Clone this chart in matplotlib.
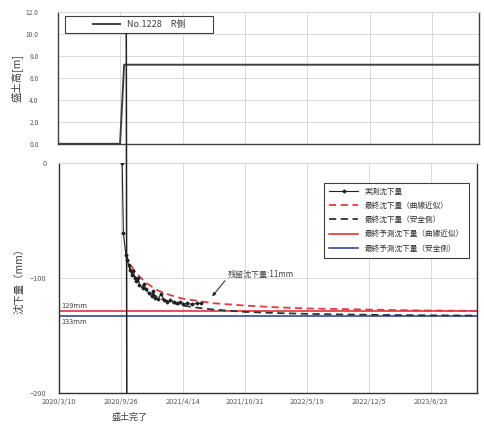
import datetime as dt
import matplotlib
matplotlib.use('Agg')
import matplotlib.pyplot as plt
import matplotlib.dates as mdates
from matplotlib.patches import ConnectionPatch, Rectangle

plt.rcParams['font.family'] = ['Noto Sans CJK JP', 'DejaVu Sans']

# ---- data ----
start = dt.date(2020, 3, 10)
x_end_day = 1350
tick_labels = ['2020/3/10', '2020/9/26', '2021/4/14', '2021/10/31',
               '2022/5/19', '2022/12/5', '2023/6/23']

# 盛土高
fill_day = [0, 199, 212, x_end_day]
fill_h = [0.0, 0.0, 7.2, 7.2]

# 実測沈下量
meas_day = [204, 208, 216, 220, 225, 230, 235, 240, 245, 250, 255, 260, 270,
            275, 280, 290, 300, 305, 310, 320, 330, 340, 350, 360, 370, 380,
            390, 400, 415, 430, 445, 460]
meas_val = [0, -61, -80, -84, -89, -93, -97, -94, -100, -103, -100, -106, -109,
            -105, -110, -113, -116, -111, -117, -118, -114, -119, -121, -119,
            -121, -122, -121, -123, -122, -123, -122, -122]

# 最終沈下量（曲線近似）
red_day = [216, 230, 250, 280, 320, 360, 400, 450, 500, 600, 700, 800, 900,
           1000, 1100, 1200, 1350]
red_val = [-80, -88, -96, -104, -111, -115, -118, -120, -122, -124, -125.5,
           -126.5, -127, -127.5, -128, -128.3, -128.6]

# 最終沈下量（安全側）
blk_day = [216, 230, 250, 280, 320, 360, 400, 450, 500, 600, 700, 800, 900,
           1000, 1100, 1200, 1350]
blk_val = [-80, -92, -101, -110, -117, -121, -124, -126, -127.5, -129.5,
           -130.5, -131.2, -131.7, -132, -132.3, -132.5, -132.7]

final_red = -129
final_blue = -133
fill_done_day = 219


def d(n):
    return mdates.date2num(start + dt.timedelta(days=n))


def parse(s):
    y, m, dd = map(int, s.split('/'))
    return mdates.date2num(dt.date(y, m, dd))


tick_pos = [parse(s) for s in tick_labels]
xlim = (d(0), d(x_end_day))

fig = plt.figure(figsize=(4.85, 4.28), dpi=100, facecolor='white')
ax1 = fig.add_axes([0.1196, 0.664, 0.868, 0.308])
ax2 = fig.add_axes([0.1216, 0.082, 0.862, 0.537])

grid_c = '#d9d9d9'
lab_c = '#595959'

# ── top: 盛土高 ─────────────────────────
ax1.plot([d(n) for n in fill_day], fill_h, color='#404040', lw=1.4,
         label='No.1228\u3000R側')
ax1.set_xlim(xlim)
ax1.set_ylim(0, 12)
ax1.set_yticks([0, 2, 4, 6, 8, 10, 12])
ax1.set_yticklabels([f'{v:.1f}' for v in range(0, 13, 2)])
ax1.set_xticks(tick_pos)
ax1.set_xticklabels([])
ax1.grid(True, color=grid_c, lw=0.7)
ax1.tick_params(length=0, labelsize=4.8, labelcolor=lab_c, pad=14)
ax1.set_ylabel('盛土高[m]', fontsize=7.5, color='#404040', labelpad=2)
for s in ['left', 'bottom', 'right']:
    ax1.spines[s].set_color('#404040')
    ax1.spines[s].set_linewidth(1.0)
ax1.spines['top'].set_color(grid_c)
ax1.set_axisbelow(True)

# legend box (wider than its entry, entry centred like the Excel original)
box = Rectangle((0.017, 0.841), 0.351, 0.129, transform=ax1.transAxes,
                facecolor='white', edgecolor='#404040', lw=0.8, zorder=5)
ax1.add_patch(box)
leg1 = ax1.legend(loc='center', bbox_to_anchor=(0.017 + 0.351 / 2, 0.905),
                  fontsize=6.5, frameon=False, handlelength=3.0,
                  borderpad=0, borderaxespad=0, labelcolor='#404040')
leg1.set_zorder(6)

# ── bottom: 沈下量 ───────────────────────
ax2.plot([d(n) for n in red_day], red_val, color='#e8383d', lw=1.3,
         ls=(0, (4, 2.5)), label='最終沈下量（曲線近似）', zorder=3)
ax2.plot([d(n) for n in blk_day], blk_val, color='#303040', lw=1.3,
         ls=(0, (4, 2.5)), label='最終沈下量（安全側）', zorder=3)
ax2.plot([d(n) for n in meas_day], meas_val, color='#202020', lw=0.8,
         marker='D', ms=1.5, label='実測沈下量', zorder=4)
ax2.axhline(final_red, color='#e02020', lw=1.1, label='最終予測沈下量（曲線近似）')
ax2.axhline(final_blue, color='#1f3d8a', lw=1.1, label='最終予測沈下量（安全側）')

ax2.set_xlim(xlim)
ax2.set_ylim(-200, 0)
ax2.set_yticks([0, -100, -200])
ax2.set_xticks(tick_pos)
ax2.set_xticklabels(tick_labels)
ax2.grid(True, color=grid_c, lw=0.7)
ax2.tick_params(length=0, labelsize=5.3, labelcolor=lab_c)
ax2.tick_params(axis='y', pad=9)
ax2.tick_params(axis='x', pad=4)
ax2.set_ylabel('沈下量（mm）', fontsize=7.5, color='#404040', labelpad=4)
for s in ['left', 'bottom', 'right']:
    ax2.spines[s].set_color('#303030')
    ax2.spines[s].set_linewidth(1.0)
ax2.spines['top'].set_color(grid_c)
ax2.set_axisbelow(True)

ax2.text(0.005, final_red + 1.5, f'{-final_red}mm', transform=ax2.get_yaxis_transform(),
         fontsize=5.3, color='#404040', va='bottom', ha='left')
ax2.text(0.005, final_blue - 1.5, f'{-final_blue}mm', transform=ax2.get_yaxis_transform(),
         fontsize=5.3, color='#404040', va='top', ha='left')

ax2.annotate('残留沈下量:11mm', xy=(d(495), -116), xytext=(d(545), -97),
             fontsize=5.8, color='#404040', ha='left', va='center',
             arrowprops=dict(arrowstyle='-|>', color='#202020', lw=0.7,
                             mutation_scale=5, shrinkA=0, shrinkB=0,
                             relpos=(0, 0.2)))

h, l = ax2.get_legend_handles_labels()
order = [2, 0, 1, 3, 4]
leg2 = ax2.legend([h[i] for i in order], [l[i] for i in order],
                  loc='upper right', bbox_to_anchor=(0.98, 0.915), fontsize=5.5,
                  frameon=True, fancybox=False, edgecolor='#404040',
                  handlelength=3.8, borderpad=0.7, labelspacing=0.8,
                  borderaxespad=0, labelcolor='#303030', framealpha=1)
leg2.get_frame().set_linewidth(0.8)

# 盛土完了 line across both panels
con = ConnectionPatch(xyA=(d(fill_done_day), -200), coordsA=ax2.transData,
                      xyB=(d(fill_done_day), 10), coordsB=ax1.transData,
                      color='#202020', lw=1.1, zorder=6)
fig.add_artist(con)
ax2.text(d(fill_done_day) + 8, -0.085, '盛土完了', transform=ax2.get_xaxis_transform(),
         fontsize=6.5, color='#404040', ha='center', va='top')

fig.savefig('out.png', dpi=100, facecolor='white')
